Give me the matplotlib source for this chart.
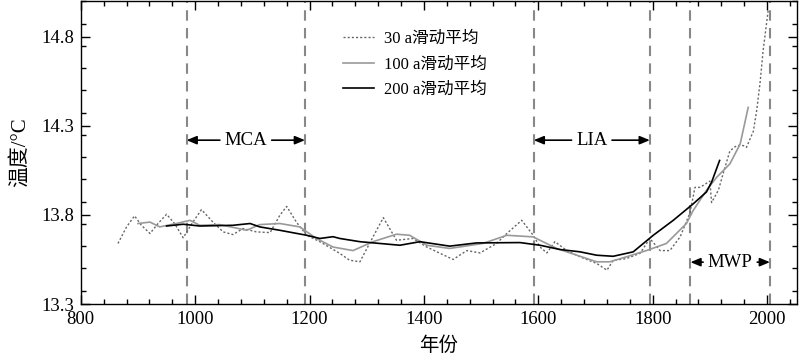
import numpy as np
import matplotlib
matplotlib.use("Agg")
import matplotlib.pyplot as plt
from matplotlib.ticker import MultipleLocator

plt.rcParams["font.family"] = ["Liberation Serif", "Noto Sans CJK SC"]
plt.rcParams["axes.unicode_minus"] = False

# ---------------------------------------------------------------------------
# Data (year, temperature in deg C)
# ---------------------------------------------------------------------------
yr_30 = [865, 880, 894, 906, 921, 935, 950, 964, 979, 996, 1011, 1031, 1049,
         1066, 1084, 1107, 1131, 1148, 1160, 1177, 1195, 1218, 1253, 1270, 1288,
         1311, 1329, 1352, 1381, 1405, 1451, 1475, 1498, 1527, 1545, 1571, 1591,
         1603, 1615, 1629, 1650, 1673, 1702, 1720, 1731, 1754, 1778, 1795, 1813,
         1830, 1848, 1865, 1874, 1883, 1900, 1903, 1915, 1923, 1935, 1947, 1958,
         1964, 1976, 1982, 1988, 1993, 2002]
t_30 = [13.64, 13.733, 13.795, 13.742, 13.696, 13.752, 13.804, 13.752, 13.672,
        13.76, 13.83, 13.76, 13.705, 13.69, 13.724, 13.705, 13.701, 13.798,
        13.848, 13.76, 13.686, 13.65, 13.584, 13.546, 13.537, 13.677, 13.785,
        13.658, 13.668, 13.62, 13.55, 13.60, 13.587, 13.64, 13.696, 13.77,
        13.686, 13.62, 13.587, 13.65, 13.60, 13.565, 13.528, 13.49, 13.545,
        13.555, 13.585, 13.668, 13.60, 13.60, 13.677, 13.81, 13.955, 13.955,
        13.99, 13.87, 13.94, 14.03, 14.16, 14.19, 14.19, 14.18, 14.27, 14.39,
        14.55, 14.72, 14.95]

yr_100 = [900, 921, 938, 967, 991, 1008, 1043, 1090, 1113, 1148, 1183, 1212,
          1241, 1276, 1311, 1352, 1375, 1405, 1445, 1503, 1545, 1591, 1632, 1673,
          1702, 1725, 1754, 1789, 1824, 1859, 1871, 1894, 1912, 1935, 1953, 1967]
t_100 = [13.752, 13.76, 13.733, 13.752, 13.77, 13.742, 13.746, 13.714, 13.746,
         13.752, 13.733, 13.668, 13.62, 13.60, 13.65, 13.692, 13.686, 13.63,
         13.612, 13.64, 13.686, 13.677, 13.612, 13.568, 13.537, 13.537, 13.565,
         13.60, 13.64, 13.752, 13.826, 13.938, 14.012, 14.087, 14.199, 14.404]

yr_200 = [950, 979, 1008, 1066, 1096, 1113, 1148, 1195, 1218, 1241, 1253, 1288,
          1358, 1393, 1445, 1492, 1568, 1603, 1638, 1673, 1702, 1731, 1766, 1801,
          1836, 1871, 1894, 1903, 1917]
t_200 = [13.738, 13.748, 13.738, 13.742, 13.752, 13.733, 13.714, 13.686,
         13.668, 13.678, 13.668, 13.65, 13.63, 13.65, 13.625, 13.643, 13.645,
         13.63, 13.606, 13.593, 13.574, 13.568, 13.593, 13.686, 13.77, 13.863,
         13.929, 13.984, 14.106]

period_lines = [985, 1192, 1592, 1795, 1866, 2005]
periods = [("MCA", 985, 1192, 14.22), ("LIA", 1592, 1795, 14.22),
           ("MWP", 1866, 2005, 13.535)]

# ---------------------------------------------------------------------------
fig = plt.figure(figsize=(8, 3.63), dpi=100)
ax = fig.add_axes([0.101, 0.1625, 0.895, 0.834])

for x in period_lines:
    ax.axvline(x, color="#888888", lw=1.5, ls=(0, (5, 3.5)), zorder=1)

ax.plot(yr_30, t_30, color="#666666", lw=1.0, ls=(0, (1.5, 1.5)),
        label="30 a滑动平均", zorder=3)
ax.plot(yr_100, t_100, color="#999999", lw=1.2, label="100 a滑动平均", zorder=3)
ax.plot(yr_200, t_200, color="black", lw=1.2, label="200 a滑动平均", zorder=4)

for name, x0, x1, y in periods:
    xc = (x0 + x1) / 2
    t = ax.text(xc, y, name, ha="center", va="center", fontsize=13.5)
    fig.canvas.draw()
    bb = t.get_window_extent().transformed(ax.transData.inverted())
    arrow = dict(arrowstyle="-|>,head_length=0.6,head_width=0.25",
                 color="black", lw=1.2, shrinkA=0, shrinkB=0)
    ax.annotate("", xy=(x0, y), xytext=(bb.x0 - 8, y), arrowprops=arrow)
    ax.annotate("", xy=(x1, y), xytext=(bb.x1 + 8, y), arrowprops=arrow)

ax.set_xlim(800, 2052)
ax.set_ylim(13.3, 15.0)
ax.xaxis.set_major_locator(MultipleLocator(200))
ax.xaxis.set_minor_locator(MultipleLocator(40))
ax.set_yticks([13.3, 13.8, 14.3, 14.8])
ax.yaxis.set_minor_locator(MultipleLocator(0.125))
ax.tick_params(which="both", direction="in", top=True, right=True,
               labelsize=13.5, width=1)
ax.tick_params(which="major", length=6.5, pad=5)
ax.tick_params(which="minor", length=3.5)
for s in ax.spines.values():
    s.set_linewidth(1.0)

ax.set_xlabel("年份", fontsize=14, labelpad=6)
ax.set_ylabel("温度/°C", fontsize=15, labelpad=8)

ax.legend(loc="upper left", bbox_to_anchor=(0.345, 0.952), frameon=False,
          fontsize=12, handlelength=1.9, handletextpad=0.6, labelspacing=0.58)

fig.savefig("out.png", dpi=100)
